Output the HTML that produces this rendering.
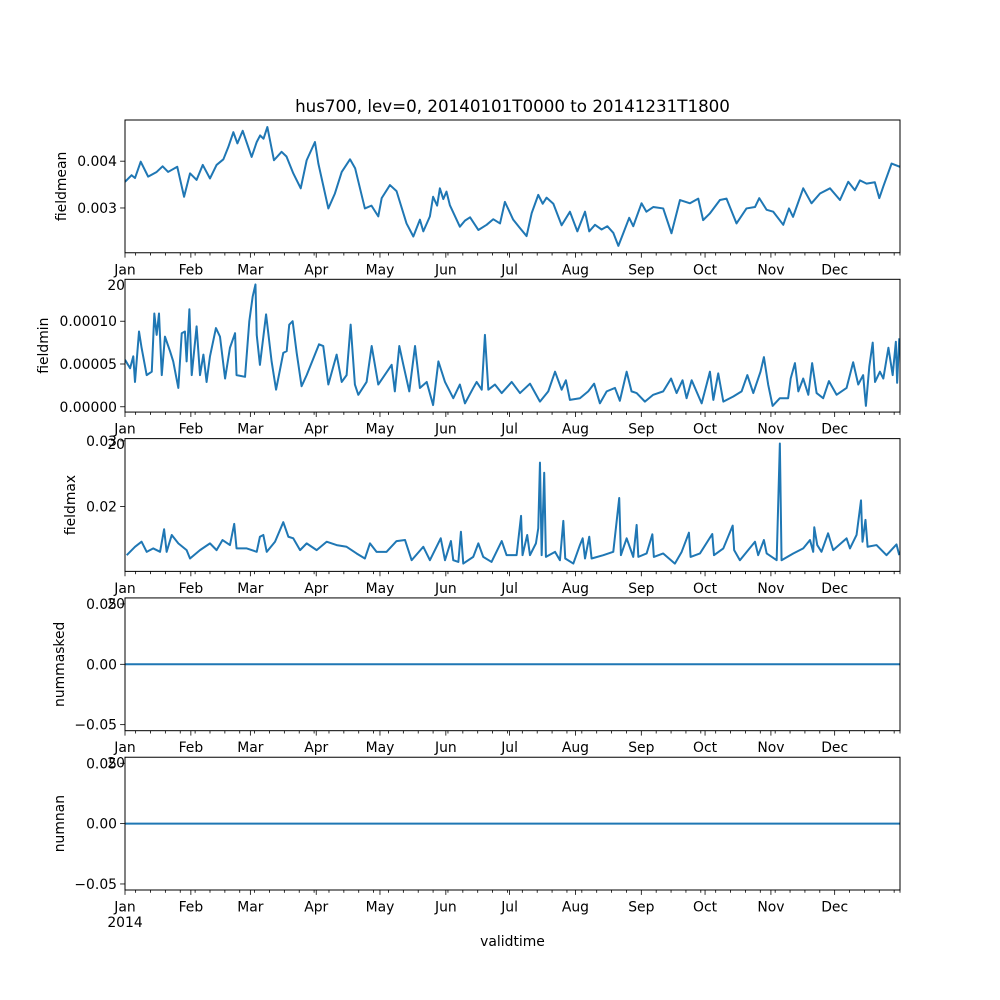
<!DOCTYPE html>
<html><head><meta charset="utf-8"><style>
html,body{margin:0;padding:0;background:#fff;}
svg{display:block;font-family:"DejaVu Sans","Liberation Sans",sans-serif;}
</style></head><body>
<svg id="fig" width="1000" height="1000" viewBox="0 0 1000 1000" xmlns="http://www.w3.org/2000/svg">
<rect width="1000" height="1000" fill="#fff"/>
<text x="512.5" y="112" font-size="16.7" text-anchor="middle">hus700, lev=0, 20140101T0000 to 20141231T1800</text>
<text x="512.5" y="946" font-size="13.9" text-anchor="middle">validtime</text>
</svg>
<script>
// ---- data ----
const monthLabels = ["Jan","Feb","Mar","Apr","May","Jun","Jul","Aug","Sep","Oct","Nov","Dec"];
const monthStartDays = [0,31,59,90,120,151,181,212,243,273,304,334];
const yearLabel = "2014";

const meanDays = [0,3.1,4.7,7.4,10.9,14.9,17.7,20.3,24.6,27.8,30.6,33.7,36.6,40,43.1,46.3,48.6,51,52.9,55.4,59.6,62,63.6,65.2,67,70.1,73.7,76,79.2,82.7,85.5,89.4,91,95.7,98.8,102,105.9,108.3,112.9,116,119.2,120.8,124.7,127.8,132.5,135.7,138.8,140.4,143.5,145,146.9,148.2,149.8,151.3,152.9,157.6,160,162.4,166.3,170.2,173.3,176.5,178.8,182.7,185.9,189,191.4,194.5,196.6,198.4,201.6,205.5,209.4,212.9,216.5,218.5,221.2,224.3,227,229.8,232.2,234.6,237.3,239.2,243.1,245.4,248.6,253.3,257.2,261.2,265.9,269.8,272.1,275.2,280,283.1,287.8,292.5,296.5,298.5,302,305.1,309.8,312.5,314.4,319.2,323.1,327.1,331.8,336.5,340.4,343.5,345.9,349,352.9,355,356.9,360.8,364.7];
const meanVals = [0.00356,0.00370,0.00364,0.00399,0.00367,0.00377,0.00389,0.00377,0.00388,0.00324,0.00374,0.00360,0.00392,0.00363,0.00392,0.00404,0.00430,0.00462,0.00438,0.00465,0.00409,0.00441,0.00455,0.00448,0.00473,0.00402,0.00420,0.00410,0.00374,0.00342,0.00402,0.00441,0.00395,0.00299,0.00331,0.00377,0.00404,0.00385,0.00299,0.00305,0.00282,0.00321,0.00349,0.00336,0.00267,0.00239,0.00275,0.00250,0.00282,0.00324,0.00305,0.00342,0.00319,0.00335,0.00306,0.00260,0.00273,0.00280,0.00253,0.00264,0.00276,0.00267,0.00313,0.00275,0.00257,0.00240,0.00289,0.00328,0.00309,0.00322,0.00309,0.00263,0.00292,0.00250,0.00292,0.00250,0.00264,0.00254,0.00261,0.00247,0.00219,0.00247,0.00279,0.00261,0.00310,0.00292,0.00302,0.00299,0.00246,0.00317,0.00310,0.00320,0.00274,0.00288,0.00317,0.00320,0.00267,0.00299,0.00302,0.00321,0.00296,0.00292,0.00264,0.00299,0.00281,0.00342,0.00310,0.00331,0.00342,0.00317,0.00356,0.00338,0.00359,0.00352,0.00355,0.00321,0.00346,0.00395,0.00388];

const minDays = [0,2.4,3.9,4.7,6.6,7.8,10.2,12.6,13.8,14.9,16,17.3,18.8,21.2,22.7,25.1,26.7,28.2,29,30.3,31.4,33.7,35.3,36.9,38.4,40,42.8,44.7,47.1,49.4,51.8,52.5,56.5,58.5,60.1,61.4,62,63.5,66.4,69,71.1,74.5,76.1,77.3,78.9,80.8,83.1,85.5,91.3,93.3,95.7,99.6,102,104.3,106.2,108.2,109.8,113.7,116.1,119.2,125.5,127,129.1,131,133.8,136.5,138.8,142,145,147.5,150.6,154.5,157.6,160,163.9,165.5,167.9,169.4,171,174.1,177.3,182,185.9,190.6,195.3,199.2,202.4,205.5,207.5,209.4,214.1,218,220.8,223.5,226.7,230.6,232.9,236.1,238.4,240.8,244.7,248.6,253.3,257,259.6,262.4,264.3,266.7,271.4,275.3,276.9,279.2,281.6,286.3,290.2,292.9,295.7,299.1,300.7,302.7,304.8,308.2,312.1,313.3,315.3,316.9,319.2,321.6,323.4,325.5,328.6,331.3,334.9,339.6,342.7,345.1,347.4,348.7,350.3,351.9,353,355.3,356.9,359.3,361.3,362.8,363.4,364.4];
const minVals = [5.5,4.5,5.9,2.9,8.8,6.9,3.7,4.1,10.9,8.4,10.9,3.7,8.2,6.5,5.3,2.2,8.6,8.8,5.3,11.4,3.7,9.4,3.7,6.1,2.9,5.9,9.2,8.2,3.3,6.9,8.6,3.7,3.5,10,12.9,14.3,8.4,4.9,10.8,5.3,2.0,6.3,6.5,9.6,10,6.3,2.4,3.7,7.3,7.1,2.6,6.1,2.9,3.7,9.6,2.6,1.4,2.9,7.1,2.6,4.9,1.8,7.1,4.9,1.8,7.1,2.2,2.9,0.2,5.3,2.9,1.0,2.6,0.4,2.2,2.9,2.0,8.4,2.0,2.6,1.6,2.9,1.6,2.7,0.6,1.8,4.1,2.0,3.1,0.8,1.0,1.8,2.7,0.4,1.8,2.2,0.7,4.1,1.8,1.6,0.6,1.4,1.8,3.3,1.6,3.1,1.0,3.1,0.4,4.1,0.8,3.9,0.6,1.2,1.8,3.7,1.6,4.1,5.8,2.6,0.1,1.0,1.0,3.3,5.1,1.8,3.3,1.4,5.1,1.6,1.0,3.0,1.4,2.2,5.2,2.6,3.7,0.1,4.7,7.5,2.9,4.1,3.3,6.9,3.7,7.6,2.8,8.0].map(v => v * 1e-5);

const maxDays = [0.8,4.7,7.8,10.2,13.3,16.5,18.4,19.6,22,25.1,29,30.6,35.3,40,43.1,45.9,49.4,51.4,52.5,57.3,62,63.5,65.1,66.7,70.6,74.5,76.9,79.2,82.4,85.5,90.2,94.9,99.6,104.3,109,112.9,115.3,118.4,123.1,127.8,131.8,134.9,140.4,143.5,148.6,150.6,153.4,154.5,156.9,158.1,159.2,163.9,166.3,168.6,172.5,177.3,179.6,184.3,186.4,187.1,189.3,190.6,193.4,194.5,195.3,196.1,197.3,198.1,202.4,204.7,206.3,207.2,211,214.1,215.4,216.5,218.5,219.6,225.1,229.8,232.6,233.4,236.1,239.2,240.8,241.6,245.5,248.2,248.9,253.3,258.8,262,265.4,266.2,270.6,276.4,277.2,281.6,286,286.7,289.4,296.5,298,300.7,302,306.7,308.2,309,314.5,319.2,322.4,323.9,324.4,325.8,327.8,330.9,333.3,339.6,341.2,344.3,346.4,347.1,348.5,349.5,353.7,358.4,363.1,364.4];
const maxVals = [0.01257,0.01385,0.01462,0.01308,0.0136,0.01308,0.01652,0.01308,0.01565,0.01437,0.01334,0.01206,0.01334,0.01437,0.01334,0.01488,0.01411,0.01734,0.0136,0.0136,0.01308,0.01538,0.01565,0.01308,0.01462,0.0176,0.01538,0.01514,0.01334,0.01437,0.01334,0.01462,0.01411,0.01385,0.01283,0.01206,0.01437,0.01308,0.01308,0.01472,0.01488,0.0118,0.01385,0.0118,0.01514,0.0118,0.01472,0.0118,0.01154,0.01615,0.01129,0.01231,0.01437,0.01231,0.01154,0.01472,0.01257,0.01257,0.01857,0.01257,0.01565,0.01257,0.01437,0.01668,0.02668,0.01257,0.02514,0.01231,0.01308,0.0118,0.0178,0.01206,0.01129,0.01411,0.01514,0.01206,0.01538,0.01206,0.01257,0.01308,0.02129,0.01257,0.01514,0.01231,0.01718,0.01231,0.01283,0.01575,0.01231,0.01283,0.01129,0.01308,0.016,0.01231,0.01283,0.0158,0.01257,0.0136,0.01708,0.01334,0.0118,0.01462,0.01257,0.01488,0.01283,0.0118,0.0296,0.0118,0.01283,0.0136,0.01488,0.01308,0.01683,0.01411,0.01308,0.0159,0.01334,0.01514,0.0136,0.01565,0.02092,0.01462,0.01795,0.01385,0.01411,0.01257,0.01421,0.01257];

const flatDays = [0, 364.75];
const maskedVals = [0, 0];
const nanVals = [0, 0];

const meanTicks = [0.003, 0.004], meanTickLabels = ["0.003","0.004"];
const minTicks = [0, 5e-5, 1e-4], minTickLabels = ["0.00000","0.00005","0.00010"];
const maxTicks = [0.02, 0.03], maxTickLabels = ["0.02","0.03"];
const flatTicks = [-0.05, 0, 0.05], flatTickLabels = ["\u22120.05","0.00","0.05"];

// ---- layout ----
const NS = "http://www.w3.org/2000/svg";
const svg = document.getElementById('fig');
const L = 125, R = 900, H = 132.76, GAP = 26.55, TOP0 = 120;
const DAYSPAN = 364.75;
const xs = d => L + d / DAYSPAN * (R - L);

function mk(tag, attrs, parent) {
  const e = document.createElementNS(NS, tag);
  for (const k in attrs) e.setAttribute(k, attrs[k]);
  (parent || svg).appendChild(e);
  return e;
}

const panels = [
  {name:"fieldmean", days:meanDays, vals:meanVals, ylim:[0.002043,0.00488], ticks:meanTicks, labels:meanTickLabels, ylx:66},
  {name:"fieldmin", days:minDays, vals:minVals, ylim:[-0.0000062,0.000149], ticks:minTicks, labels:minTickLabels, ylx:48},
  {name:"fieldmax", days:maxDays, vals:maxVals, ylim:[0.0101,0.03034], ticks:maxTicks, labels:maxTickLabels, ylx:75},
  {name:"nummasked", days:flatDays, vals:maskedVals, ylim:[-0.055,0.055], ticks:flatTicks, labels:flatTickLabels, ylx:64},
  {name:"numnan", days:flatDays, vals:nanVals, ylim:[-0.055,0.055], ticks:flatTicks, labels:flatTickLabels, ylx:64}
];

panels.forEach((p, i) => {
  const top = TOP0 + i * (H + GAP), bot = top + H;
  const ys = v => bot - (v - p.ylim[0]) / (p.ylim[1] - p.ylim[0]) * H;
  const g = mk('g', {});
  
  
  const bg = mk('rect', {x:L, y:top, width:R-L, height:H, fill:'#fff'}, g);
  
  
  // clip
  const cp = mk('clipPath', {id:'cp'+i}, g);
  mk('rect', {x:L, y:top, width:R-L, height:H}, cp);
  // line
  let d = '';
  p.days.forEach((dd, k) => { d += (k ? 'L' : 'M') + xs(dd).toFixed(2) + ',' + ys(p.vals[k]).toFixed(2); });
  const line = mk('path', {d:d, fill:'none', stroke:'#1f77b4', 'stroke-width':2, 'stroke-linejoin':'round', 'clip-path':'url(#cp'+i+')'}, g);
  
  
  // spines
  const fr = mk('rect', {x:L, y:top, width:R-L, height:H, fill:'none', stroke:'#000', 'stroke-width':1}, g);
  
  
  // x ticks
  for (let dd = 5; dd < DAYSPAN; dd += 7) {
    if (monthStartDays.includes(dd)) continue;
    mk('line', {x1:xs(dd), x2:xs(dd), y1:bot, y2:bot+2.8, stroke:'#000', 'stroke-width':0.8}, g);
  }
  mk('line', {x1:R, x2:R, y1:bot, y2:bot+2.8, stroke:'#000', 'stroke-width':0.8}, g);
  monthStartDays.forEach((dd, k) => {
    mk('line', {x1:xs(dd), x2:xs(dd), y1:bot, y2:bot+4.9, stroke:'#000', 'stroke-width':0.8}, g);
    const t = mk('text', {x:xs(dd), y:bot+21.5, 'font-size':13.9, 'text-anchor':'middle'}, g);
    t.textContent = monthLabels[k];
    
    
  });
  const yr = mk('text', {x:L, y:bot+37, 'font-size':13.9, 'text-anchor':'middle'}, g);
  yr.textContent = yearLabel;
  
  
  // y ticks
  p.ticks.forEach((v, k) => {
    const y = ys(v);
    mk('line', {x1:L-4.9, x2:L, y1:y, y2:y, stroke:'#000', 'stroke-width':0.8}, g);
    const t = mk('text', {x:L-8, y:y+5, 'font-size':13.9, 'text-anchor':'end'}, g);
    t.textContent = p.labels[k];
    
    
  });
  const yl = mk('text', {x:p.ylx, y:top+H/2, 'font-size':13.9, 'text-anchor':'middle', transform:'rotate(-90 '+p.ylx+' '+(top+H/2)+')'}, g);
  yl.textContent = p.name;
  
  
});
</script>
</body></html>
